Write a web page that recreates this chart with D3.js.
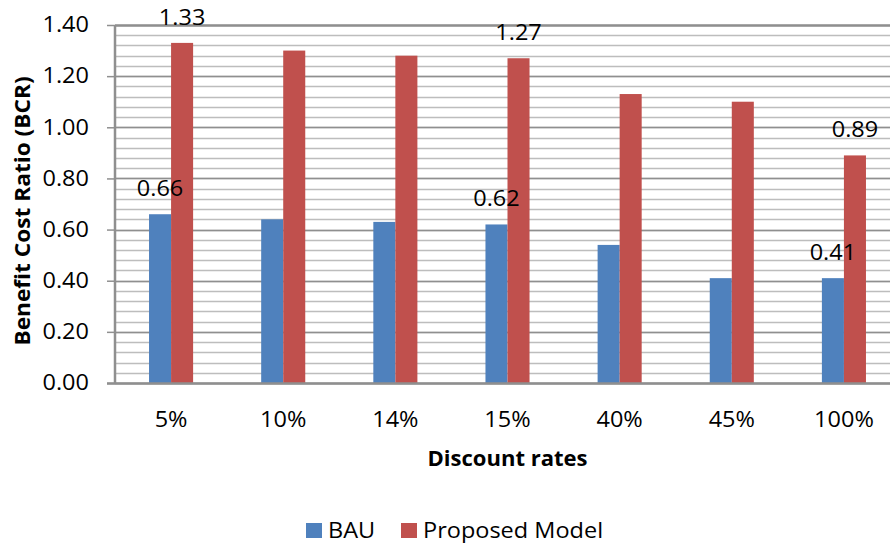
<!DOCTYPE html>
<html>
<head>
<meta charset="utf-8">
<script src="https://cdn.jsdelivr.net/npm/d3@7"></script>
<style>
  html, body { margin: 0; padding: 0; background: #fff; }
  svg { display: block; font-family: "Open Sans", sans-serif; }
</style>
</head>
<body>
<svg id="chart" width="890" height="544"></svg>
<script>
// Benefit cost ratio by discount rate, two scenarios
const categories = ["5%", "10%", "14%", "15%", "40%", "45%", "100%"];
const seriesNames = ["BAU", "Proposed Model"];
const bauValues = [0.66, 0.64, 0.63, 0.62, 0.54, 0.41, 0.41];
const proposedValues = [1.33, 1.30, 1.28, 1.27, 1.13, 1.10, 0.89];
const labelledCategories = ["5%", "15%", "100%"];
const yTickValues = [0, 0.2, 0.4, 0.6, 0.8, 1.0, 1.2, 1.4];
const yTitle = "Benefit Cost Ratio (BCR)";
const xTitle = "Discount rates";

const colors = { "BAU": "#4F81BD", "Proposed Model": "#C0504D" };

const rows = categories.map((c, i) => ({
  category: c,
  values: [
    { series: seriesNames[0], value: bauValues[i] },
    { series: seriesNames[1], value: proposedValues[i] }
  ]
}));

const svg = d3.select("#chart");
const plot = { left: 115, right: 900, top: 25, bottom: 383 };
const fontSize = 21;
const widen = 1.12;      // horizontal stretch for regular text
const widenBold = 1.05;  // horizontal stretch for axis titles

// Place a text element at (tx, ty), widened horizontally about its anchor
function placeText(sel, tx, ty, sx, rotate) {
  sel.attr("x", 0).attr("y", 0)
    .attr("transform", (d, i, n) => {
      const px = typeof tx === "function" ? tx(d, i, n) : tx;
      const py = typeof ty === "function" ? ty(d, i, n) : ty;
      return `translate(${px},${py})` + (rotate ? ` rotate(${rotate})` : "") + ` scale(${sx},1)`;
    });
  return sel;
}

const x = d3.scaleBand().domain(categories).range([plot.left, plot.right]).padding(0);
const pairWidth = x.bandwidth() * 0.393;
const xInner = d3.scaleBand().domain(seriesNames).range([-pairWidth / 2, pairWidth / 2]).padding(0);
const y = d3.scaleLinear().domain([0, 1.4]).range([plot.bottom, plot.top]);

// Minor gridlines every 0.04, major every 0.2
const minorTicks = d3.range(0, 36).map(i => i * 0.04);
svg.append("g").selectAll("line").data(minorTicks).join("line")
  .attr("x1", plot.left).attr("x2", plot.right)
  .attr("y1", d => Math.round(y(d)) + 0.5).attr("y2", d => Math.round(y(d)) + 0.5)
  .attr("stroke", "#bdbdbd").attr("stroke-width", 1.5);
svg.append("g").selectAll("line").data(yTickValues).join("line")
  .attr("x1", plot.left).attr("x2", plot.right)
  .attr("y1", d => Math.round(y(d)) + 0.5).attr("y2", d => Math.round(y(d)) + 0.5)
  .attr("stroke", "#8f8f8f").attr("stroke-width", d => d === 1.4 ? 2.5 : 1.5);

// Bars
const groups = svg.append("g").selectAll("g").data(rows).join("g")
  .attr("transform", d => `translate(${x(d.category) + x.bandwidth() / 2},0)`);
groups.selectAll("rect").data(d => d.values).join("rect")
  .attr("x", d => xInner(d.series))
  .attr("width", xInner.bandwidth())
  .attr("y", d => y(d.value))
  .attr("height", d => y(0) - y(d.value))
  .attr("fill", d => colors[d.series]);

// Data labels on selected categories
const dataLabels = groups.filter(d => labelledCategories.includes(d.category))
  .selectAll("text").data(d => d.values).join("text")
  .attr("text-anchor", "middle")
  .attr("font-size", fontSize)
  .attr("fill", "#000")
  .text(d => d.value.toFixed(2));
placeText(dataLabels, d => xInner(d.series) + xInner.bandwidth() / 2, d => y(d.value) - 18, widen);

// Y axis
const yAxis = svg.append("g")
  .attr("transform", `translate(${plot.left},0)`)
  .call(d3.axisLeft(y).tickValues(yTickValues).tickFormat(d3.format(".2f")).tickSize(8).tickPadding(18));
yAxis.select(".domain").attr("stroke", "#8f8f8f").attr("stroke-width", 2.5)
  .attr("d", `M0,${plot.top}V${plot.bottom}`);
yAxis.selectAll(".tick line").attr("stroke", "#8f8f8f").attr("stroke-width", 1.5);
const yTickText = yAxis.selectAll(".tick text")
  .attr("font-size", fontSize).attr("font-family", "Open Sans").attr("fill", "#000");
placeText(yTickText, -26, 0, widen);

// X axis baseline and category labels
svg.append("line")
  .attr("x1", plot.left - 8).attr("x2", plot.right)
  .attr("y1", y(0) + 0.5).attr("y2", y(0) + 0.5)
  .attr("stroke", "#8f8f8f").attr("stroke-width", 2.5);
const xLabels = svg.append("g").selectAll("text").data(categories).join("text")
  .attr("text-anchor", "middle")
  .attr("font-size", fontSize)
  .text(d => d);
placeText(xLabels, d => x(d) + x.bandwidth() / 2, 427, widen);

// Axis titles
placeText(svg.append("text")
  .attr("text-anchor", "middle").attr("font-size", fontSize).attr("font-weight", "bold")
  .text(xTitle), (plot.left + plot.right) / 2, 466, widenBold);
placeText(svg.append("text")
  .attr("text-anchor", "middle").attr("font-size", fontSize).attr("font-weight", "bold")
  .text(yTitle), 30, 211, 1.08, -90);

// Legend
const legendX = [306, 401];
const legend = svg.append("g").selectAll("g").data(seriesNames).join("g")
  .attr("transform", (d, i) => `translate(${legendX[i]},523)`);
legend.append("rect").attr("width", 16).attr("height", 15).attr("fill", d => colors[d]);
placeText(legend.append("text").attr("font-size", fontSize).text(d => d), 22, 14.5, widen);
</script>
</body>
</html>
